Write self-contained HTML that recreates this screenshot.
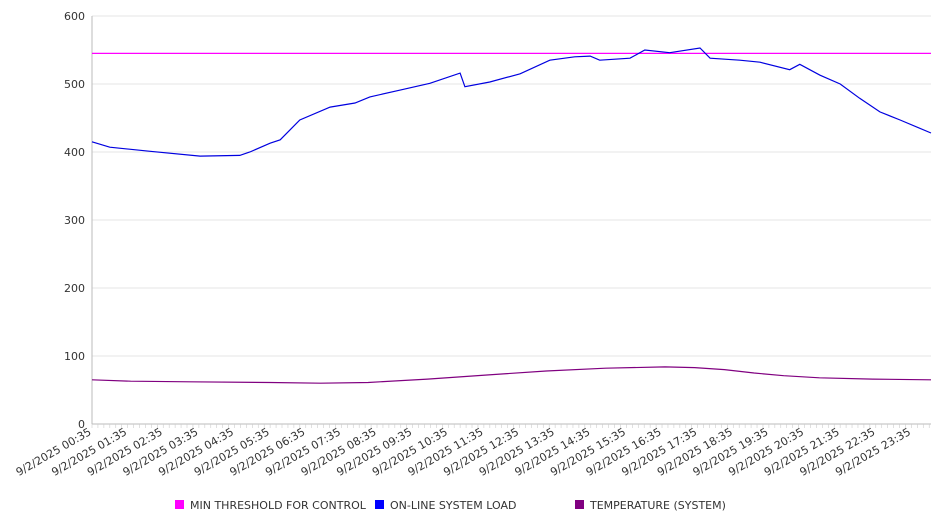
<!DOCTYPE html>
<html><head><meta charset="utf-8"><style>
body{margin:0;background:#fff;font-family:"DejaVu Sans","Liberation Sans",sans-serif;}
svg text{font-family:"DejaVu Sans","Liberation Sans",sans-serif;fill:#333;}
</style></head><body>
<svg id="chart" width="946" height="526" xmlns="http://www.w3.org/2000/svg"></svg>
<script>
const yTicks=[0,100,200,300,400,500,600];
const xTickLabels=["00:35","01:35","02:35","03:35","04:35","05:35","06:35","07:35","08:35","09:35","10:35","11:35","12:35","13:35","14:35","15:35","16:35","17:35","18:35","19:35","20:35","21:35","22:35","23:35"];
const thresholdValue=545;
const loadTimes=[35,65,133,217,284,301,335,352,385,436,478,503,554,604,655,663,705,756,806,848,874,890,941,966,1008,1059,1076,1126,1160,1210,1227,1261,1295,1328,1362,1396,1448];
const loadValues=[415,407,401,394,395,400,413,418,447,466,472,481,491,501,516,496,503,515,535,540,541,535,538,550,546,553,538,535,532,521,529,513,500,479,459,447,428];
const tempTimes=[35,100,200,335,420,500,600,700,800,900,1000,1050,1100,1150,1200,1260,1350,1448];
const tempValues=[65,63,62,61,60,61,66,72,78,82,84,83,80,75,71,68,66,65];
const NS="http://www.w3.org/2000/svg";
const svg=document.getElementById('chart');
const L=92,R=931,T=16,B=424;
const tMin=35,tMax=1448;
function x(t){return L+(t-tMin)/(tMax-tMin)*(R-L);}
function y(v){return B-v/600*(B-T);}
function mk(tag,attrs,parent){const e=document.createElementNS(NS,tag);for(const k in attrs)e.setAttribute(k,attrs[k]);(parent||svg).appendChild(e);return e;}
yTicks.forEach(v=>{
  const g=mk('line',{x1:L,x2:R,y1:y(v),y2:y(v),stroke:v===0?'#bbb':'#e6e6e6','stroke-width':1});
  
  
  const t=mk('text',{x:L-7,y:y(v)+4,'text-anchor':'end','font-size':11});
  t.textContent=v;
  
  
});
mk('line',{x1:L,x2:L,y1:T,y2:B,stroke:'#bbb'});
for(let t=tMin;t<=tMax;t+=10){mk('line',{x1:x(t),x2:x(t),y1:B,y2:B+4,stroke:'#ccc','stroke-width':0.6});}
xTickLabels.forEach((lab,i)=>{
  const t=tMin+i*60;
  const tx=mk('text',{transform:`translate(${x(t)},${B+10}) rotate(-30)`,'text-anchor':'end','font-size':11});
  tx.textContent='9/2/2025 '+lab;
  
  
});
const th=mk('line',{x1:L,x2:R,y1:y(thresholdValue),y2:y(thresholdValue),stroke:'#ff00ff','stroke-width':1.2});


function path(ts,vs,color,name){
  const d=ts.map((t,i)=>(i?'L':'M')+x(t).toFixed(1)+','+y(vs[i]).toFixed(1)).join('');
  const p=mk('path',{d:d,fill:'none',stroke:color,'stroke-width':1.2});
  
  
}
path(loadTimes,loadValues,'#0000e0','system-load-line');
path(tempTimes,tempValues,'#800080','temperature-line');
const legend=[['MIN THRESHOLD FOR CONTROL','#ff00ff',175],['ON-LINE SYSTEM LOAD','#0000ff',375],['TEMPERATURE (SYSTEM)','#800080',575]];
legend.forEach(([lab,c,lx])=>{
  const g=mk('g',{});
  
  
  mk('rect',{x:lx,y:500,width:9,height:9,fill:c},g);
  const t=mk('text',{x:lx+15,y:509,'font-size':11},g);
  t.textContent=lab;
});
</script>
</body></html>
